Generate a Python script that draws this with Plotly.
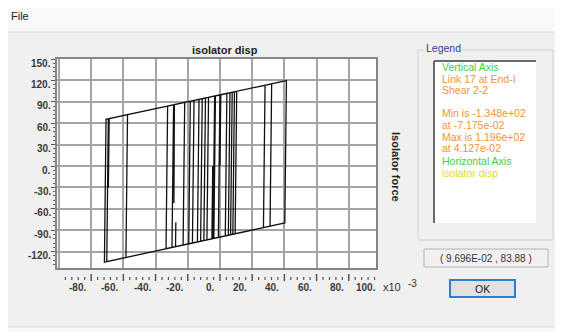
import plotly.graph_objects as go

# ---------------- data ----------------
# hysteresis path vertices: displacement (x10^-3) and force
disp = [0.0, 0.5, 10.4, 9.4, -14.0, -13.0, 6.2, 5.2, -22.9, -21.9,
        28.0, 27.0, -33.5, -32.5, 41.27, 40.27, -71.75, -70.75, -57.4, -58.4,
        -70.3, -69.3, -68.8, -69.3, -68.8, 32.1, 31.1, -17.1, -16.1, 9.0,
        8.0, -27.6, -27.4, -27.6, -29.8, -28.8, -28.3, -28.6, -28.3, 7.6,
        6.6, -19.4, -18.4, 4.3, 3.3, -12.0, -11.0, 0.0, -1.0, -8.1,
        -7.1, -2.8, -3.8, -10.0, -9.0, -3.3, -4.3, -5.0, -4.5]
force = [0.0, 99.9, 104.7, -95.0, -106.5, 93.4, 102.7, -97.1, -110.8, 89.1,
         113.2, -86.4, -116.0, 84.0, 119.6, -79.9, -134.8, 65.5, 72.0, -128.2,
         -134.0, 66.2, 66.5, -30.0, 66.5, 115.2, -84.4, -108.0, 91.9, 104.0,
         -95.7, -113.1, -79.0, -113.1, -114.2, 85.8, 86.0, -52.0, 86.0, 103.4,
         -96.4, -109.1, 90.8, 101.8, -98.0, -105.5, 94.4, 99.7, -100.1, -103.6,
         96.3, 98.3, -101.5, -104.5, 95.4, 98.1, -101.7, -102.1, 0.0]

x_tick_labels = [-80, -60, -40, -20, 0, 20, 40, 60, 80, 100]
y_tick_labels = [150, 120, 90, 60, 30, 0, -30, -60, -90, -120]

title_text = "isolator disp"
yaxis_title = "Isolator force"
legend_lines = [("Vertical Axis", "#3fcf3f"),
                ("Link 17 at End-I", "#f39338"),
                ("Shear 2-2", "#f39338"),
                ("", "#f39338"),
                ("Min is -1.348e+02", "#f39338"),
                ("at -7.175e-02", "#f39338"),
                ("Max is 1.196e+02", "#f39338"),
                ("at 4.127e-02", "#f39338"),
                ("Horizontal Axis", "#3fcf3f"),
                ("isolator disp", "#e2dc22")]
coord_text = "( 9.696E-02 , 83.88 )"

# ---------------- layout geometry (screen pixels) ----------------
OFF = 8                      # page body margin offsets the figure
SW, SH = 563, 332            # screen size
W, H = SW - OFF, SH - OFF    # figure size
L, R, T, B = 57, 376, 59, 268   # plot area in screen pixels
XMIN, XMAX = -101.2, 96.9
YMIN, YMAX = -143.0, 150.0


def px(x):
    return (x - L) / (R - L)


def py(y):
    return (B - y) / (B - T)


def vx(v):
    return (v - XMIN) / (XMAX - XMIN)


FONT = "Liberation Sans, Arial, sans-serif"

fig = go.Figure()
fig.add_trace(go.Scatter(x=disp, y=force, mode="lines",
                         line=dict(color="#111111", width=1.3),
                         hoverinfo="skip", showlegend=False))

shapes = []
annotations = []

LIGHT = "#f9f9f9"
# window chrome (outside plot area)
shapes.append(dict(type="rect", xref="paper", yref="paper", x0=px(0), x1=px(SW + 5),
                   y0=py(32), y1=py(-5), fillcolor=LIGHT, line=dict(width=0), layer="below"))
shapes.append(dict(type="rect", xref="paper", yref="paper", x0=px(-5), x1=px(5),
                   y0=py(SH + 5), y1=py(32), fillcolor=LIGHT, line=dict(width=0), layer="below"))
shapes.append(dict(type="rect", xref="paper", yref="paper", x0=px(-5), x1=px(SW + 5),
                   y0=py(SH + 5), y1=py(327), fillcolor=LIGHT, line=dict(width=0), layer="below"))
shapes.append(dict(type="line", xref="paper", yref="paper", x0=px(5), x1=px(SW + 5),
                   y0=py(32), y1=py(32), line=dict(color="#dedede", width=1)))
shapes.append(dict(type="line", xref="paper", yref="paper", x0=px(5), x1=px(5),
                   y0=py(327), y1=py(32), line=dict(color="#dedede", width=1)))
shapes.append(dict(type="line", xref="paper", yref="paper", x0=px(5), x1=px(SW + 5),
                   y0=py(327), y1=py(327), line=dict(color="#dedede", width=1)))

annotations.append(dict(text="File", xref="paper", yref="paper", x=px(9), y=py(16),
                        xanchor="left", yanchor="middle", showarrow=False,
                        font=dict(family=FONT, size=11, color="#222")))

# x tick row below plot (detached)
for v in range(-96, 97, 4):
    major = (v % 20 == 0)
    shapes.append(dict(type="line", xref="x", yref="paper", x0=v, x1=v,
                       y0=py(274 if major else 277), y1=py(281 if major else 280),
                       line=dict(color="#555", width=1.5 if major else 1.2)))

for v in x_tick_labels:
    annotations.append(dict(text="<b>%d.</b>" % v, xref="paper", yref="paper",
                            x=vx(v), y=py(287), xanchor="right", yanchor="middle",
                            xshift=-3, showarrow=False,
                            font=dict(family=FONT, size=10, color="#3a3a3a")))
for v in y_tick_labels:
    annotations.append(dict(text="<b>%d.</b>" % v, xref="paper", yref="y",
                            x=px(53), y=v, xanchor="right", yanchor="middle",
                            yshift=-4, showarrow=False,
                            font=dict(family=FONT, size=10, color="#3a3a3a")))

annotations.append(dict(text="x10", xref="paper", yref="paper", x=px(381), y=py(287),
                        xanchor="left", yanchor="middle", showarrow=False,
                        font=dict(family=FONT, size=11, color="#333")))
annotations.append(dict(text="-3", xref="paper", yref="paper", x=px(406), y=py(283),
                        xanchor="left", yanchor="middle", showarrow=False,
                        font=dict(family=FONT, size=10, color="#333")))

# title and vertical axis title
annotations.append(dict(text="<b>%s</b>" % title_text, xref="paper", yref="paper",
                        x=px(225), y=py(50), xanchor="center", yanchor="middle",
                        showarrow=False, font=dict(family=FONT, size=11, color="#222")))
annotations.append(dict(text="<b>%s</b>" % yaxis_title, xref="paper", yref="paper",
                        x=px(396), y=py(167), xanchor="center", yanchor="middle",
                        textangle=90, showarrow=False,
                        font=dict(family=FONT, size=11, color="#222")))

# legend group box
shapes.append(dict(type="rect", xref="paper", yref="paper", x0=px(418), x1=px(553),
                   y0=py(240), y1=py(50), line=dict(color="#d2d2d2", width=1)))
annotations.append(dict(text="Legend", xref="paper", yref="paper", x=px(424), y=py(48),
                        xanchor="left", yanchor="middle", showarrow=False,
                        bgcolor="#f0f0f0", borderpad=1,
                        font=dict(family=FONT, size=10.5, color="#3b3b9a")))
shapes.append(dict(type="rect", xref="paper", yref="paper", x0=px(434), x1=px(536),
                   y0=py(223), y1=py(61), fillcolor="white", line=dict(width=0)))
shapes.append(dict(type="line", xref="paper", yref="paper", x0=px(434), x1=px(434),
                   y0=py(223), y1=py(61), line=dict(color="#6a6a6a", width=2)))
shapes.append(dict(type="line", xref="paper", yref="paper", x0=px(434), x1=px(536),
                   y0=py(61), y1=py(61), line=dict(color="#6a6a6a", width=2)))

line_y = [67, 79, 90, 101, 113, 125, 137, 148, 161, 173]
for (txt, col), yy in zip(legend_lines, line_y):
    if not txt:
        continue
    annotations.append(dict(text=txt, xref="paper", yref="paper", x=px(440), y=py(yy),
                            xanchor="left", yanchor="middle", showarrow=False,
                            font=dict(family=FONT, size=10.5, color=col)))

# coordinate readout box
shapes.append(dict(type="rect", xref="paper", yref="paper", x0=px(424), x1=px(548),
                   y0=py(267), y1=py(249), fillcolor="#f0f0f0",
                   line=dict(color="#b4b4b4", width=1)))
annotations.append(dict(text=coord_text, xref="paper", yref="paper", x=px(486), y=py(258),
                        xanchor="center", yanchor="middle", showarrow=False,
                        font=dict(family=FONT, size=10, color="#333")))

# OK button
shapes.append(dict(type="rect", xref="paper", yref="paper", x0=px(450), x1=px(515),
                   y0=py(297), y1=py(280), fillcolor="#e1e1e1",
                   line=dict(color="#2a7fd4", width=2)))
annotations.append(dict(text="OK", xref="paper", yref="paper", x=px(482), y=py(288.5),
                        xanchor="center", yanchor="middle", showarrow=False,
                        font=dict(family=FONT, size=10.5, color="#222")))

fig.update_layout(
    width=W, height=H,
    margin=dict(l=L - OFF, r=SW - R, t=T - OFF, b=SH - B, pad=0),
    paper_bgcolor="#f0f0f0", plot_bgcolor="white",
    showlegend=False,
    xaxis=dict(range=[XMIN, XMAX], tick0=0, dtick=20, showticklabels=False,
               showgrid=True, gridcolor="#a4a4a4", gridwidth=1.5, zeroline=False,
               showline=True, mirror=True, linecolor="#858585", linewidth=2,
               ticks="", fixedrange=True),
    yaxis=dict(range=[YMIN, YMAX], tick0=0, dtick=30, showticklabels=False,
               showgrid=True, gridcolor="#a4a4a4", gridwidth=1.5, zeroline=False,
               showline=True, mirror=True, linecolor="#858585", linewidth=2,
               ticks="outside", ticklen=4, tickwidth=1, tickcolor="#555",
               minor=dict(dtick=6, tick0=0, ticks="outside", ticklen=2,
                          tickcolor="#666", tickwidth=1, showgrid=False),
               fixedrange=True),
    shapes=shapes, annotations=annotations,
)

fig.write_html("out.html")
